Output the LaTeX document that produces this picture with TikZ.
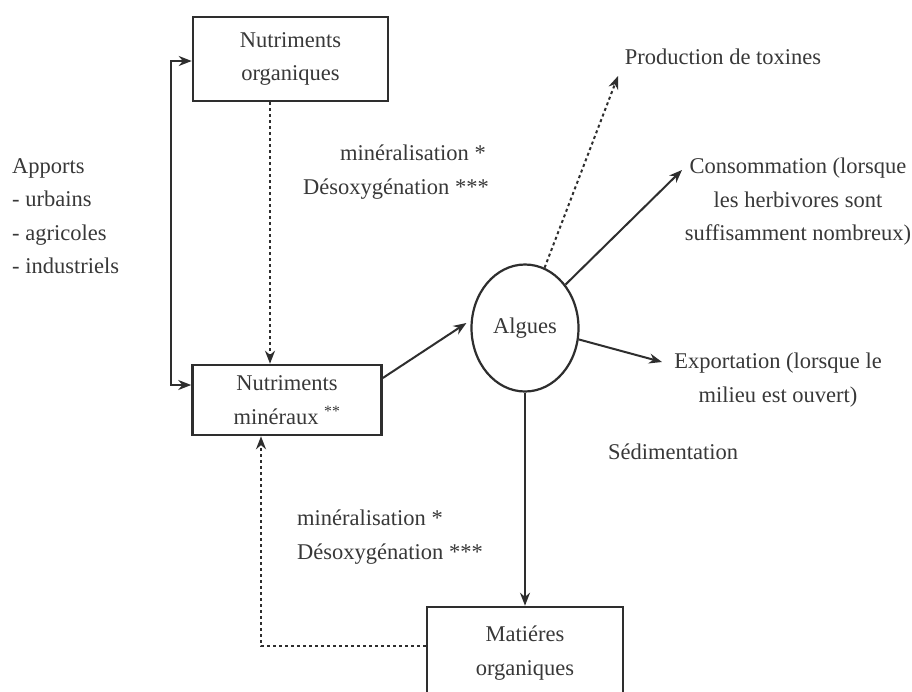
\documentclass[tikz,border=0pt]{standalone}
\usepackage{fontspec}
\setmainfont{Liberation Serif}
\usetikzlibrary{arrows.meta,shapes.geometric}
\definecolor{ink}{HTML}{2E2E2E}
\definecolor{txtc}{HTML}{383838}
\begin{document}
\begin{tikzpicture}[x=1pt,y=-1pt,
  every node/.style={text=txtc, font=\fontsize{22.5}{33.5}\selectfont, inner sep=0pt},
  box/.style={draw=ink, line width=2.6pt, align=center, rectangle},
  tip/.style={-{Stealth[length=13pt,width=10pt]}},
  arr/.style={draw=ink, line width=2pt, tip},
  dotarr/.style={draw=ink, line width=2pt, dash pattern=on 3pt off 3pt, tip},
  lbl/.style={align=center}]
\clip (0,0) rectangle (912,691);
\fill[white] (0,0) rectangle (912,691);

\node[box, minimum width=195pt, minimum height=84pt] (norg) at (290.5,59) {Nutriments\\organiques};
\node[box, minimum width=189pt, minimum height=70pt] (nmin) at (287,400) {Nutriments\\minéraux \textsuperscript{**}};
\node[draw=ink, line width=2.2pt, ellipse, minimum width=107pt, minimum height=127pt] (alg) at (525,328) {Algues};
\node[box, minimum width=196pt, minimum height=92pt] (mat) at (525,653) {Matiéres\\organiques};

\node[lbl] (prod) at (723,57) {Production de toxines};
\node[lbl] (cons) at (798,202) {Consommation (lorsque\\les herbivores sont\\suffisamment nombreux)};
\node[lbl] (exp) at (778,380) {Exportation (lorsque le\\milieu est ouvert)};
\node[lbl] (sed) at (673,452) {Sédimentation};
\node[align=left, anchor=west] (app) at (12,216) {Apports\\- urbains\\- agricoles\\- industriels};
\node[align=left, anchor=west] (minA) at (303,172) {\hspace*{37pt}minéralisation *\\Désoxygénation ***};
\node[align=left, anchor=west] (minB) at (297,537) {minéralisation *\\Désoxygénation ***};

\coordinate (tipProd) at (618,76);
\coordinate (tipCons) at (682,170);
\coordinate (tipExp) at (662,362);

\draw[draw=ink, line width=2pt, {Stealth[length=13pt,width=10pt]}-{Stealth[length=13pt,width=10pt]}]
  ([yshift=-2pt]norg.west) -- ++(-21,0) |- ([yshift=15pt]nmin.west);
\draw[dotarr] ([xshift=-20.5pt]norg.south) -- ([xshift=-17pt]nmin.north);
\draw[dotarr] ([yshift=7pt]mat.west) -| ([xshift=-26pt]nmin.south);
\draw[arr] ([yshift=22pt]nmin.east) -- ([xshift=-4pt,yshift=5pt]alg.west);
\draw[arr] (alg.south) -- (mat.north);
\draw[dotarr] (alg.72) -- (tipProd);
\draw[arr] (alg.47) -- (tipCons);
\draw[arr] (alg.-12) -- (tipExp);
\end{tikzpicture}
\end{document}
